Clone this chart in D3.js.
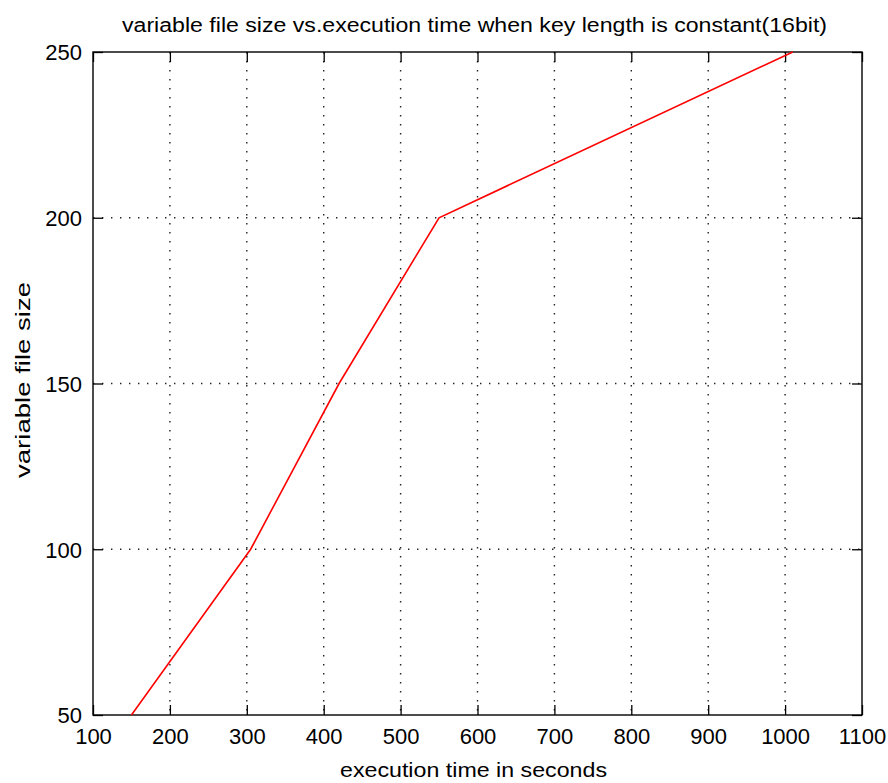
<!DOCTYPE html>
<html><head><meta charset="utf-8">
<script src="https://cdn.jsdelivr.net/npm/d3@7"></script>
<style>html,body{margin:0;padding:0;background:#fff;overflow:hidden;} svg{display:block;} text{font-family:"Liberation Sans",Arial,sans-serif;fill:#000;}</style>
</head><body>
<svg id="c" width="888" height="783"></svg>
<script>
const execTime = [150, 305, 420, 550, 1010];
const fileSize = [50, 100, 150, 200, 250];
const xTicks = [100,200,300,400,500,600,700,800,900,1000,1100];
const yTicks = [50,100,150,200,250];
const titleText = "variable file size vs.execution time when key length is constant(16bit)";
const xLabelText = "execution time in seconds";
const yLabelText = "variable file size";

const svg = d3.select("#c");
const L=93, R=862, T=52, B=715;
const x = d3.scaleLinear().domain([100,1100]).range([L,R]);
const y = d3.scaleLinear().domain([50,250]).range([B,T]);

// grid
const g = svg.append("g");
g.selectAll("line.gx").data(xTicks.slice(1,-1)).join("line")
  .attr("x1",d=>x(d)).attr("x2",d=>x(d)).attr("y1",T).attr("y2",B)
  .attr("stroke","#222").attr("stroke-width",1.4).attr("stroke-dasharray","1.4,7.6");
g.selectAll("line.gy").data(yTicks.slice(1,-1)).join("line")
  .attr("y1",d=>y(d)).attr("y2",d=>y(d)).attr("x1",L).attr("x2",R)
  .attr("stroke","#222").attr("stroke-width",1.4).attr("stroke-dasharray","1.4,7.6");

// axes with inward ticks
const tl = 10;
const ax = svg.append("g").attr("transform",`translate(0,${B})`)
  .call(d3.axisBottom(x).tickValues(xTicks).tickSize(-tl).tickPadding(13).tickFormat(d3.format("d")));
const axT = svg.append("g").attr("transform",`translate(0,${T})`)
  .call(d3.axisTop(x).tickValues(xTicks).tickSize(-tl).tickFormat(""));
const ay = svg.append("g").attr("transform",`translate(${L},0)`)
  .call(d3.axisLeft(y).tickValues(yTicks).tickSize(-tl).tickPadding(11).tickFormat(d3.format("d")));
const ayR = svg.append("g").attr("transform",`translate(${R},0)`)
  .call(d3.axisRight(y).tickValues(yTicks).tickSize(-tl).tickFormat(""));
[ax,axT,ay,ayR].forEach(a=>{
  a.select(".domain").remove();
  a.selectAll(".tick line").attr("stroke","#000").attr("stroke-width",1.3);
  a.selectAll("text").attr("font-size",22).attr("font-family","Liberation Sans, Arial, sans-serif").attr("fill","#000");
});
ax.selectAll("text").attr("dy","0.71em");
ay.selectAll("text").attr("dy","0.36em");

svg.append("rect").attr("x",L).attr("y",T).attr("width",R-L).attr("height",B-T)
  .attr("fill","none").attr("stroke","#000").attr("stroke-width",1.4);

// line
const pts = execTime.map((v,i)=>[v,fileSize[i]]);
svg.append("path").datum(pts)
  .attr("d",d3.line().x(d=>x(d[0])).y(d=>y(d[1])))
  .attr("fill","none").attr("stroke","#ff0000").attr("stroke-width",1.6);

// labels
svg.append("text").attr("x",(122+827)/2).attr("y",32).attr("text-anchor","middle")
  .attr("font-size",20).attr("textLength",705).attr("lengthAdjust","spacingAndGlyphs").text(titleText);
svg.append("text").attr("x",(340+607)/2).attr("y",777).attr("text-anchor","middle")
  .attr("font-size",21).attr("textLength",267).attr("lengthAdjust","spacingAndGlyphs").text(xLabelText);
svg.append("text").attr("transform",`translate(30,${(282+478)/2}) rotate(-90)`).attr("text-anchor","middle")
  .attr("font-size",21).attr("textLength",196).attr("lengthAdjust","spacingAndGlyphs").text(yLabelText);
</script>
</body></html>
